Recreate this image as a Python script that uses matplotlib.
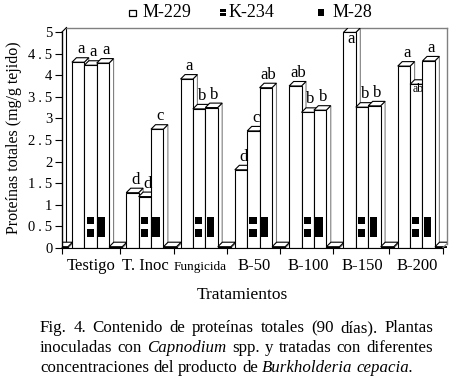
import numpy as np
import matplotlib
matplotlib.use("Agg")
import matplotlib.pyplot as plt
from matplotlib.patches import Polygon, Rectangle

plt.rcParams['font.family'] = ['Liberation Serif', 'DejaVu Serif']

# ---- data ----
categories = ['Testigo', 'T. Inoc', 'Fungicida', 'B-50', 'B-100', 'B-150', 'B-200']
m229 = [4.30, 1.28, 3.91, 1.81, 3.75, 4.99, 4.21]
k234 = [4.23, 1.19, 3.22, 2.71, 3.14, 3.26, 3.79]
m28 = [4.28, 2.75, 3.25, 3.71, 3.19, 3.29, 4.33]
blank = [0.03, 0.03, 0.03, 0.03, 0.03, 0.03, 0.03, 0.03]   # empty series drawn as floor slabs
let_m229 = ['a', 'd', 'a', 'd', 'ab', 'a', 'a']
let_k234 = ['a', 'd', 'b', 'c', 'b', 'b', 'ab']
let_m28 = ['a', 'c', 'b', 'ab', 'b', 'b', 'a']
yticks = [0, 0.5, 1, 1.5, 2, 2.5, 3, 3.5, 4, 4.5, 5]

W, H = 452, 385
fig = plt.figure(figsize=(W / 100, H / 100), dpi=100)
fx = lambda p: p / W
fy = lambda p: 1 - p / H

# axes box in pixels: x 62..447, y 248..28
ax = fig.add_axes([fx(62), fy(248), 385 / W, 220 / H])
pxx, pxy = 54.3, 43.2          # pixels per data unit
x0 = 0.13
ax.set_xlim(x0, x0 + 385 / pxx)
ax.set_ylim(0, 220 / pxy)
dx, dy = 4.5 / pxx, 4.5 / pxy  # 3d depth

bw = 0.228
bw0 = 0.24
offs = [0.313, 0.541, 0.769]

z = [2]
def box(x, w, h):
    zz = z[0]
    ax.add_patch(Polygon([(x + w, 0), (x + w + dx, dy), (x + w + dx, h + dy), (x + w, h)],
                         closed=True, fc='white', ec='#7f7f7f', lw=0.8, zorder=zz))
    ax.add_patch(Polygon([(x, h), (x + dx, h + dy), (x + w + dx, h + dy), (x + w, h)],
                         closed=True, fc='white', ec='black', lw=0.8, zorder=zz))
    ax.bar(x, h, width=w, align='edge', color='white', edgecolor='black', lw=0.8, zorder=zz + 1)
    z[0] += 2

series = [m229, k234, m28]
letters = [let_m229, let_k234, let_m28]
inside = {(0, 5): 12, (1, 6): 8.5}   # labels drawn inside the bar top (size)

for g in range(len(blank)):
    box(g, bw0, blank[g])
    if g >= len(categories):
        continue
    for s in range(3):
        xl = g + offs[s]
        h = series[s][g]
        box(xl, bw, h)
        zz = z[0]
        if s == 1:
            ax.add_patch(Rectangle((xl + 0.042, 0.55), 0.129, 0.16, fc='black', ec='none', zorder=zz))
            ax.add_patch(Rectangle((xl + 0.042, 0.26), 0.129, 0.17, fc='black', ec='none', zorder=zz))
        if s == 2:
            ax.add_patch(Rectangle((xl + 0.024, 0.26), 0.136, 0.45, fc='black', ec='none', zorder=zz))
        if (s, g) in inside:
            ax.annotate(letters[s][g], (xl + bw / 2 + dx * 0.4, h), xytext=(0, 1),
                        textcoords='offset points', ha='center', va='top',
                        fontsize=inside[(s, g)], zorder=200)
        else:
            ax.annotate(letters[s][g], (xl + bw / 2 + dx * 0.6, h + dy), xytext=(0, 0.3),
                        textcoords='offset points', ha='center', va='bottom',
                        fontsize=12, zorder=200)

# walls
xr = x0 + 385 / pxx
ax.plot([x0 + dx, x0 + dx], [dy, 5 + dy], color='black', lw=0.8, zorder=1, clip_on=False)
ax.plot([x0 + dx, xr], [5 + dy, 5 + dy], color='#808080', lw=1, zorder=1, clip_on=False)
ax.plot([xr, xr], [5 + dy, dy], color='#808080', lw=1, zorder=1, clip_on=False)
ax.plot([x0, x0 + dx], [5, 5 + dy], color='black', lw=0.8, zorder=1, clip_on=False)
ax.plot([x0, x0 + dx], [0, dy], color='black', lw=0.8, zorder=1, clip_on=False)
ax.plot([7.14, 7.14 + dx], [0, dy], color='#808080', lw=0.8, zorder=300, clip_on=False)

for sp in ['top', 'right']:
    ax.spines[sp].set_visible(False)
ax.spines['left'].set_bounds(0, 5)
ax.spines['left'].set_linewidth(1)
ax.spines['bottom'].set_bounds(x0, 7.14)
ax.spines['bottom'].set_linewidth(0.8)
ax.spines['bottom'].set_zorder(300)
ax.patch.set_visible(False)

# tick labels in the source are letter-spaced
spaced = lambda s: '\u2009'.join(s)
ax.set_yticks(yticks)
ax.set_yticklabels([spaced('%g' % v) for v in yticks])
ax.tick_params(axis='y', direction='out', length=5, width=0.8, pad=2, labelsize=10.5)

ax.set_xticks([0.13, 1.19, 2.19, 3.17, 4.15, 5.12, 6.15, 7.14])
ax.set_xticklabels([])
ax.tick_params(axis='x', which='major', direction='out', length=4, width=0.8)

# category names share one baseline, Fungicida is set smaller in the source
for g, name in enumerate(categories):
    ax.annotate(name, (g + 0.67, 0), xycoords=('data', 'axes fraction'),
                xytext=(0, -16), textcoords='offset points', ha='center', va='baseline',
                fontsize=9.5 if name == 'Fungicida' else 12, annotation_clip=False)

fig.text(fx(14), fy(138), 'Proteínas totales (mg/g tejido)', rotation=90,
         ha='center', va='center', fontsize=11.5)
fig.text(fx(242), fy(295), 'Tratamientos', ha='center', va='center', fontsize=12.5)

# legend
fig.add_artist(Rectangle((fx(129.5), fy(16)), 6.5 / W, 6.5 / H, transform=fig.transFigure,
                         fill=False, ec='black', lw=0.9))
fig.add_artist(Rectangle((fx(220), fy(11.7)), 6 / W, 2.7 / H, transform=fig.transFigure,
                         fc='black', ec='none'))
fig.add_artist(Rectangle((fx(220), fy(16)), 6 / W, 2.7 / H, transform=fig.transFigure,
                         fc='black', ec='none'))
fig.add_artist(Rectangle((fx(317.7), fy(16)), 6.6 / W, 6.6 / H, transform=fig.transFigure,
                         fc='black', ec='none'))
for t, px in [('M-229', 143), ('K-234', 229), ('M-28', 333)]:
    fig.text(fx(px), fy(17), t, ha='left', va='baseline', fontsize=13)

# caption, justified like the source
r = fig.canvas.get_renderer()
def words_of(line):
    out = []
    for chunk, st in line:
        for w in chunk.split():
            out.append((w, st))
    return out

cap = [
    [('Fig. 4. Contenido de proteínas totales (90 días). Plantas', 'normal')],
    [('inoculadas con', 'normal'), ('Capnodium', 'italic'), ('spp. y tratadas con diferentes', 'normal')],
    [('concentraciones del producto de', 'normal'), ('Burkholderia cepacia.', 'italic')],
]

def measure(words, fs):
    arts = [fig.text(0, 0, w, fontsize=fs, fontstyle=st, va='baseline') for w, st in words]
    ws = [a.get_window_extent(r).width for a in arts]
    return arts, ws

w3 = words_of(cap[2])
tmp, ws = measure(w3, 10)
nat = sum(ws) + (len(ws) - 1) * 0.25 * 10 * 100 / 72
for a in tmp:
    a.remove()
cfs = 10 * 373 / nat

for i, (line, base) in enumerate(zip(cap, [332.5, 352.5, 371.5])):
    wl = words_of(line)
    arts, ws = measure(wl, cfs)
    if i < 2:
        gap = (393 - sum(ws)) / (len(ws) - 1)
    else:
        gap = 0.25 * cfs * 100 / 72
    x = 40
    for a, wd in zip(arts, ws):
        a.set_position((fx(x), fy(base)))
        x += wd + gap

fig.savefig('out.png', dpi=100)
